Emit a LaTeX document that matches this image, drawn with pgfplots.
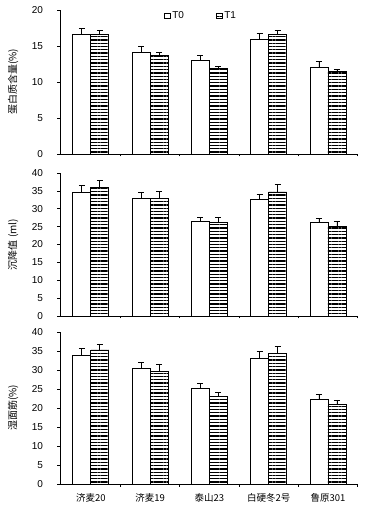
\documentclass[border=0pt]{standalone}
\usepackage{pgfplots}
\pgfplotsset{compat=1.18}
\usepackage{fontspec}
\setmainfont{Liberation Sans}
\newfontfamily\cjk{Noto Sans CJK SC}
\usetikzlibrary{patterns.meta}
\pgfplotsset{
 panel/.style={
  width=297pt, scale only axis, anchor=south west,
  xmin=-0.52, xmax=4.49, ymin=0,
  axis x line*=bottom, axis y line*=left,
  axis line style={line width=0.8pt},
  ybar=0pt, bar width=18pt,
  xtick={0,...,4}, xticklabels={},
  major x tick style={draw=none},
  minor xtick={0.5,1.5,2.5,3.5,4.49},
  minor x tick style={line width=0.7pt},
  minor tick length=2.5pt,
  major tick length=2.5pt,
  tick align=outside,
  tick style={line width=0.7pt, black},
  ticklabel style={font=\fontsize{10}{11}\selectfont},
  /pgf/number format/assume math mode=true,
  yticklabel style={xshift=-11pt},
  ylabel style={at={(axis description cs:-0.158,0.5)}, rotate=0, anchor=center, font=\cjk\fontsize{10}{11}\selectfont},
  error bars/y dir=plus, error bars/y explicit,
  error bars/error mark=-,
  error bars/error bar style={line width=0.8pt, black},
  error bars/error mark options={rotate=90, mark size=3pt, line width=0.8pt, black},
 },
 tzero/.style={draw=black, fill=white, line width=0.7pt},
 tone/.style={draw=black, line width=0.7pt, pattern={Lines[angle=0,distance=3.3pt,line width=1.3pt]}, pattern color=black},
}
\begin{document}
\begin{tikzpicture}
\path[use as bounding box] (0,0) rectangle (374pt,525pt);
% Panel 1
\begin{axis}[panel, at={(60pt,371pt)}, height=144pt,
  ymax=20, ytick={0,5,10,15,20},
  ylabel={蛋白质含量(\%)},
  legend style={draw=none, fill=none, at={(0.34,0.96)}, anchor=west, legend columns=2,
    font=\fontsize{10}{11}\selectfont,
    /tikz/every even column/.append style={column sep=30pt}},
  legend image code/.code={\draw[#1] (0pt,-2.8pt) rectangle (5.5pt,2.8pt);},
]
\addplot[tzero] coordinates {(0,16.6)+-(0,0.8) (1,14.1)+-(0,0.8) (2,13.05)+-(0,0.6) (3,15.9)+-(0,0.85) (4,12.1)+-(0,0.8)};
\addplot[tone] coordinates {(0,16.6)+-(0,0.5) (1,13.65)+-(0,0.45) (2,11.9)+-(0,0.3) (3,16.6)+-(0,0.5) (4,11.5)+-(0,0.3)};
\legend{T0,T1}
\end{axis}
% Panel 2
\begin{axis}[panel, at={(60pt,209pt)}, height=143pt,
  ymax=40, ytick={0,5,...,40},
  ylabel={沉降值 (ml)},
]
\addplot[tzero] coordinates {(0,34.7)+-(0,1.7) (1,32.8)+-(0,1.8) (2,26.5)+-(0,1.1) (3,32.5)+-(0,1.6) (4,26.3)+-(0,1.1)};
\addplot[tone] coordinates {(0,35.9)+-(0,2.0) (1,32.8)+-(0,2.0) (2,26.2)+-(0,1.4) (3,34.7)+-(0,2.0) (4,25.2)+-(0,1.3)};
\end{axis}
% Panel 3
\begin{axis}[panel, at={(60pt,41pt)}, height=152pt,
  ymax=40, ytick={0,5,...,40},
  ylabel={湿面筋(\%)},
  xticklabels={济麦20,济麦19,泰山23,白硬冬2号,鲁原301},
  xticklabel style={font=\cjk\fontsize{9.5}{10}\selectfont, yshift=-3pt},
]
\addplot[tzero] coordinates {(0,33.9)+-(0,1.8) (1,30.4)+-(0,1.7) (2,25.2)+-(0,1.3) (3,33.1)+-(0,1.9) (4,22.4)+-(0,1.1)};
\addplot[tone] coordinates {(0,35.3)+-(0,1.5) (1,29.6)+-(0,2.0) (2,23.1)+-(0,1.1) (3,34.5)+-(0,1.6) (4,21.0)+-(0,1.1)};
\end{axis}
\end{tikzpicture}
\end{document}
